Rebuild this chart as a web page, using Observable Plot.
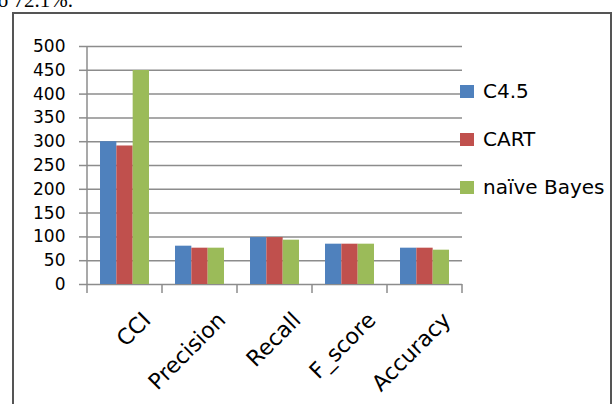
<!DOCTYPE html>
<html><head><meta charset="utf-8">
<script src="https://cdn.jsdelivr.net/npm/d3@7"></script>
<script src="https://cdn.jsdelivr.net/npm/@observablehq/plot@0.6"></script>
<style>
body{margin:0;background:#fff;}
#page{position:relative;width:614px;height:404px;overflow:hidden;background:#fff;font-family:"DejaVu Sans",sans-serif;}
#snippet{position:absolute;left:-8px;top:-10px;font-size:21px;line-height:21px;font-family:"Liberation Serif",serif;color:#000;white-space:nowrap;}
#chart{position:absolute;left:0;top:0;}
#frame{position:absolute;left:12px;top:12px;width:596px;height:420px;border:2px solid #555;}
#legend{position:absolute;left:460px;top:0;width:154px;height:300px;}
.item{position:absolute;left:0;height:22px;display:flex;align-items:center;white-space:nowrap;font-size:20px;line-height:22px;color:#000;}
.sw{width:14px;height:13px;margin-right:9px;flex:none;}
</style>
</head><body>
<div id="page">
  <div id="snippet">to 72.1%.</div>
  <div id="chart"></div>
  <div id="frame"></div>
  <div id="legend"></div>
</div>
<script>
const categories = ["CCI", "Precision", "Recall", "F_score", "Accuracy"];
const seriesNames = ["C4.5", "CART", "naïve Bayes"];
const c45Values = [300, 80.5, 98.6, 84.7, 76.3];
const cartValues = [291, 76.3, 98.6, 84.7, 76.3];
const bayesValues = [449.6, 76.3, 93.1, 84.7, 72.1];
const yTicks = [0, 50, 100, 150, 200, 250, 300, 350, 400, 450, 500];
const colors = ["#4F81BD", "#C0504D", "#9BBB59"];

const seriesValues = [c45Values, cartValues, bayesValues];
const rows = seriesNames.flatMap((s, i) => categories.map((c, j) => ({category: c, series: s, value: seriesValues[i][j]})));

const W = 614, H = 404;
const mL = 87, mR = 152, mT = 46, mB = 120;
const bandwidth = (W - mL - mR) / categories.length;
const groupFrac = 0.653;
const barW = bandwidth * groupFrac / seriesNames.length;
const off = (bandwidth - barW * seriesNames.length) / 2;
const gridColor = "#8c8c8c";

function axisFrame(index, scales, values, dims) {
  const g = d3.create("svg:g").attr("stroke", gridColor).attr("stroke-width", 1.5);
  const x0 = scales.x(categories[0]);
  const xEnd = dims.width - dims.marginRight;
  const yTop = scales.y(yTicks[yTicks.length - 1]), yBase = scales.y(0);
  g.append("line").attr("x1", x0).attr("x2", x0).attr("y1", yTop).attr("y2", yBase);
  const bounds = categories.map(c => scales.x(c)).concat([xEnd]);
  for (const bx of bounds) g.append("line").attr("x1", bx).attr("x2", bx).attr("y1", yBase).attr("y2", yBase + 9);
  return g.node();
}

const barMarks = seriesNames.map((s, i) => Plot.barY(rows.filter(d => d.series === s), {
  x: "category", y: "value", fill: colors[i],
  insetLeft: off + i * barW,
  insetRight: bandwidth - off - (i + 1) * barW
}));

const chart = Plot.plot({
  width: W, height: H,
  marginLeft: mL, marginRight: mR, marginTop: mT, marginBottom: mB,
  style: {background: "none", fontFamily: "DejaVu Sans", overflow: "visible"},
  x: {type: "band", domain: categories, padding: 0, axis: null},
  y: {domain: [0, 500], axis: null, label: null},
  marks: [
    Plot.ruleY(yTicks, {stroke: gridColor, strokeWidth: 1.5}),
    Plot.axisY({ticks: yTicks, label: null, tickSize: 8, tickPadding: 14, fontSize: 17, stroke: gridColor, strokeWidth: 1.5, fill: "#000", tickFormat: d => String(d)}),
    ...barMarks,
    axisFrame,
    Plot.text(categories, {x: d => d, frameAnchor: "bottom", rotate: -45, textAnchor: "end", lineAnchor: "middle", dx: 22, dy: 32, fontSize: 22, fill: "#000"})
  ]
});
document.getElementById("chart").appendChild(chart);

const legend = d3.select("#legend");
seriesNames.forEach((s, i) => {
  const item = legend.append("div").attr("class", "item").style("top", (80 + i * 48) + "px");
  item.append("div").attr("class", "sw").style("background", colors[i]);
  item.append("span").text(s);
});
</script>
</body></html>
